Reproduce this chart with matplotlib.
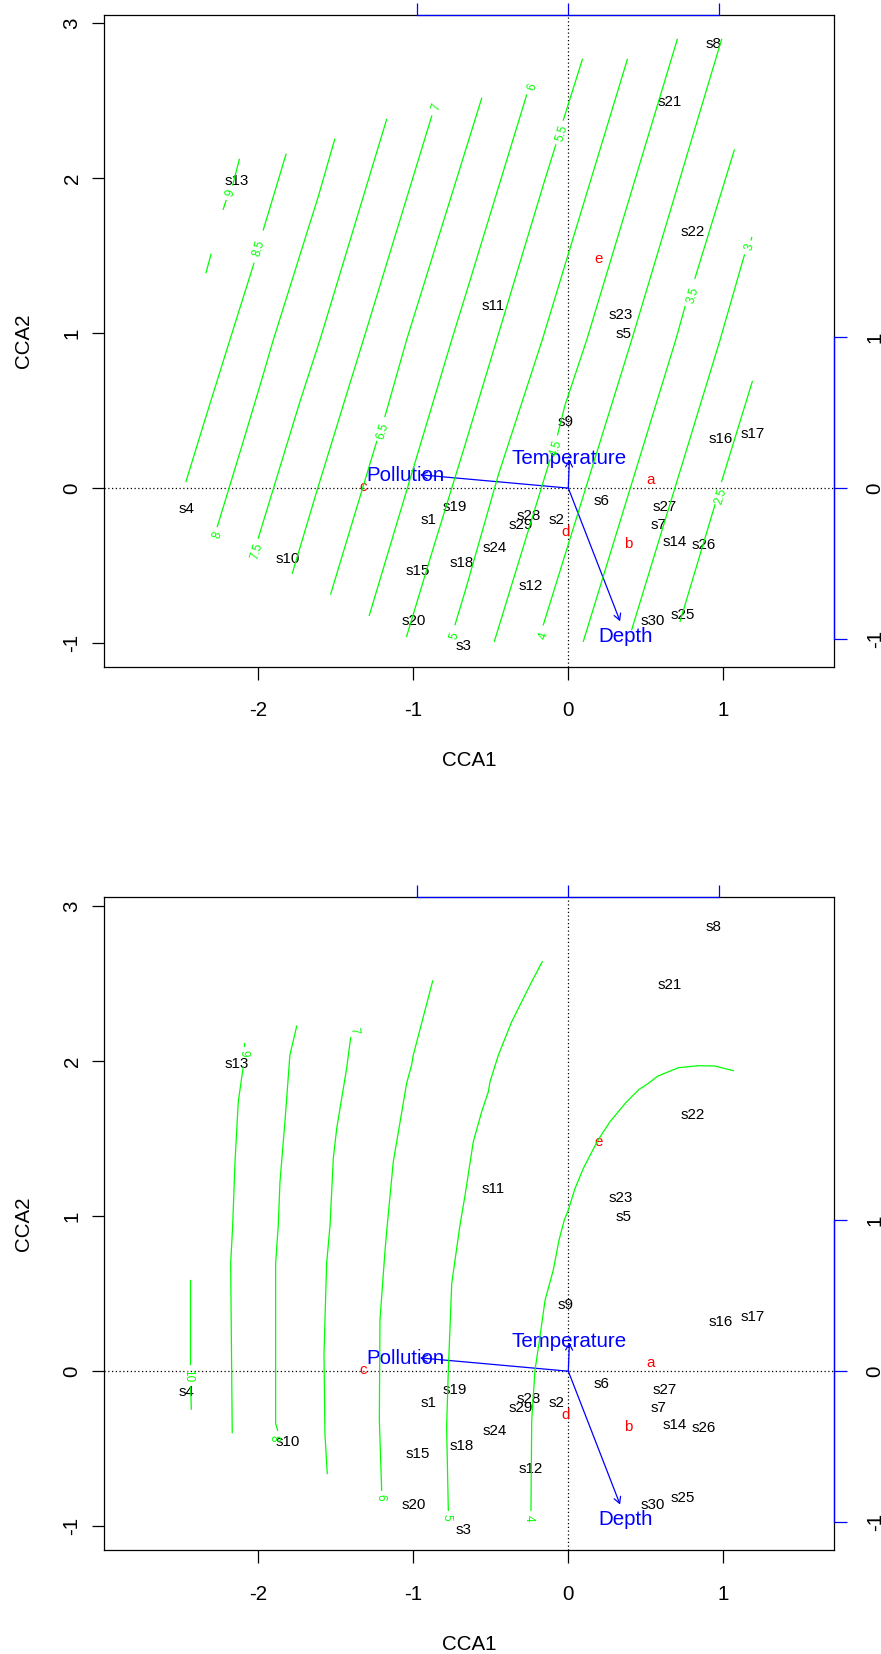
import matplotlib
matplotlib.use('Agg')
import matplotlib.pyplot as plt

plt.rcParams['font.family'] = ['Liberation Sans', 'DejaVu Sans']

# site scores on the first two constrained axes
site_names = ['s%d' % i for i in range(1, 31)]
site_x = [-0.903, -0.073, -0.676, -2.462, 0.357, 0.211, 0.583, 0.936, -0.015, -1.813,
          -0.484, -0.241, -2.140, 0.684, -0.974, 0.985, 1.187, -0.688, -0.731, -1.000,
          0.656, 0.805, 0.336, -0.477, 0.738, 0.873, 0.624, -0.254, -0.307, 0.542]
site_y = [-0.198, -0.196, -1.012, -0.123, 1.006, -0.071, -0.226, 2.877, 0.434, -0.445,
          1.183, -0.624, 1.993, -0.336, -0.523, 0.329, 0.361, -0.473, -0.114, -0.850,
          2.499, 1.660, 1.129, -0.379, -0.811, -0.359, -0.110, -0.172, -0.230, -0.850]

# species scores
species_names = ['a', 'b', 'c', 'd', 'e']
species_x = [0.529, 0.389, -1.322, -0.019, 0.192]
species_y = [0.064, -0.349, 0.015, -0.273, 1.488]

# environmental biplot arrows
env_names = ['Pollution', 'Temperature', 'Depth']
env_x = [-0.957, 0.007, 0.334]
env_y = [0.086, 0.185, -0.860]

# scale of the arrow axes (top and right)
arrow_mul = 0.975
arrow_ticks = [-1, 0, 1]

x_ticks = [-2, -1, 0, 1]
y_ticks = [-1, 0, 1, 2, 3]
x_lim = (-2.992, 1.712)
y_lim = (-1.153, 3.056)

# fitted surface, first model: contour pieces per level
top_levels = [9, 8.5, 8, 7.5, 7, 6.5, 6, 5.5, 5, 4.5, 4, 3.5, 3, 2.5]
top_paths = [
    [[(-2.122, 2.122), (-2.165, 1.957)], [(-2.208, 1.856), (-2.226, 1.800)],
     [(-2.305, 1.509), (-2.337, 1.391)]],
    [[(-1.821, 2.155), (-1.968, 1.666)],
     [(-2.028, 1.451), (-2.183, 0.957), (-2.344, 0.441), (-2.466, 0.043)]],
    [[(-1.507, 2.251), (-1.613, 1.882), (-1.903, 0.957), (-1.978, 0.699),
      (-2.097, 0.301), (-2.264, -0.248)]],
    [[(-1.172, 2.380), (-1.602, 0.957), (-1.731, 0.559), (-2.000, -0.323)]],
    [[(-0.881, 2.402), (-1.322, 0.957), (-1.405, 0.688), (-1.623, -0.022), (-1.780, -0.549)]],
    [[(-0.559, 2.516), (-1.043, 0.957), (-1.183, 0.462)],
     [(-1.236, 0.301), (-1.533, -0.684)]],
    [[(-0.269, 2.537), (-0.666, 1.236), (-0.752, 0.957), (-1.284, -0.822)]],
    [[(0.091, 2.768), (-0.032, 2.376)],
     [(-0.081, 2.215), (-0.155, 1.978), (-0.462, 0.957), (-0.666, 0.279),
      (-0.871, -0.387), (-1.043, -0.957)]],
    [[(0.381, 2.768), (-0.168, 0.957), (-0.451, 0.086), (-0.666, -0.667), (-0.731, -0.882)]],
    [[(0.703, 2.897), (0.119, 0.957), (-0.021, 0.537), (-0.069, 0.344)],
     [(-0.118, 0.183), (-0.477, -0.989)]],
    [[(0.989, 2.897), (0.409, 0.957), (-0.161, -0.882)]],
    [[(1.071, 2.183), (0.817, 1.355)],
     [(0.753, 1.172), (0.693, 0.957), (0.097, -0.989)]],
    [[(1.183, 1.617), (1.179, 1.602)],
     [(1.136, 1.505), (0.979, 0.957), (0.409, -0.914)]],
    [[(1.187, 0.688), (0.989, 0.043)],
     [(0.946, -0.108), (0.721, -0.860)]],
]
top_label_xy = [(-2.176, 1.903), (-1.993, 1.548), (-2.264, -0.301), (-2.011, -0.409),
                (-0.849, 2.458), (-1.198, 0.365), (-0.230, 2.587), (-0.043, 2.290),
                (-0.735, -0.957), (-0.081, 0.258), (-0.157, -0.957), (0.807, 1.247),
                (1.172, 1.555), (0.985, -0.054)]
top_label_rot = [73] * len(top_levels)

# fitted surface, second model
bottom_levels = [10, 9, 8, 7, 6, 5, 4]
bottom_paths = [
    [[(-2.441, 0.587), (-2.441, 0.045)], [(-2.436, -0.101), (-2.432, -0.245)]],
    [[(-2.093, 2.114), (-2.093, 2.097)],
     [(-2.097, 1.963), (-2.129, 1.738), (-2.150, 1.351), (-2.165, 0.942),
      (-2.178, 0.695), (-2.168, -0.396)]],
    [[(-1.752, 2.226), (-1.796, 2.039), (-1.828, 1.609), (-1.860, 1.221), (-1.871, 0.942),
      (-1.888, 0.695), (-1.888, -0.338), (-1.875, -0.381)]],
    [[(-1.404, 2.151), (-1.430, 1.953), (-1.494, 1.566), (-1.516, 1.372), (-1.537, 0.942),
      (-1.559, 0.695), (-1.576, 0.114), (-1.570, -0.402), (-1.555, -0.660)]],
    [[(-0.875, 2.516), (-1.000, 2.039), (-1.011, 1.974), (-1.043, 1.856), (-1.129, 1.351),
      (-1.168, 0.942), (-1.183, 0.770), (-1.215, 0.329), (-1.219, -0.316), (-1.204, -0.768)]],
    [[(-0.168, 2.641), (-0.236, 2.512), (-0.365, 2.254), (-0.451, 2.039), (-0.505, 1.867),
      (-0.516, 1.802), (-0.559, 1.673), (-0.613, 1.480), (-0.666, 1.135), (-0.699, 0.942),
      (-0.752, 0.566), (-0.774, 0.006), (-0.785, -0.359), (-0.774, -0.897)]],
    [[(1.065, 1.938), (0.946, 1.968), (0.839, 1.970), (0.710, 1.957), (0.577, 1.903),
      (0.516, 1.856), (0.456, 1.817), (0.372, 1.733), (0.269, 1.609), (0.189, 1.486),
      (0.097, 1.308), (0.043, 1.178), (0.000, 1.039), (-0.026, 0.974), (-0.060, 0.845),
      (-0.097, 0.652), (-0.150, 0.458), (-0.183, 0.221), (-0.215, 0.006), (-0.236, -0.316),
      (-0.241, -0.897)]],
]
bottom_label_xy = [(-2.456, -0.026), (-2.093, 2.049), (-1.903, -0.434), (-1.383, 2.194),
                   (-1.211, -0.815), (-0.789, -0.944), (-0.254, -0.946)]
bottom_label_rot = [-90, -90, -90, -80, -90, -90, -90]

BIG = 14.8
SMALL = 10.9
CONTOUR = 8.5
LW = 0.9


def ordiPanel( ax, levels, paths, label_xy, label_rot ):
    '''
    Draws one ordination diagram: sites, species, arrows,
    the blue arrow-scale axes and the surface contours.
    '''
    ax.set_xlim( x_lim )
    ax.set_ylim( y_lim )
    ax.set_xticks( x_ticks )
    ax.set_yticks( y_ticks )
    ax.set_xticklabels( [str(t) for t in x_ticks] )
    ax.set_yticklabels( [str(t) for t in y_ticks] )
    ax.tick_params( length = 9, width = LW, labelsize = BIG, direction = 'out' )
    ax.tick_params( axis = 'x', pad = 16.0 )
    ax.tick_params( axis = 'y', pad = 7.5, labelrotation = 90 )
    plt.setp( ax.get_yticklabels(), va = 'center' )
    for sp in ax.spines.values():
        sp.set_linewidth( LW )

    ax.set_xlabel( 'CCA1', fontsize = BIG )
    ax.xaxis.set_label_coords( 0.5, -0.1415 )
    ax.xaxis.label.set_va( 'center_baseline' )
    ax.set_ylabel( 'CCA2', fontsize = BIG )
    ax.yaxis.set_label_coords( -0.1137, 0.5 )
    ax.yaxis.label.set_va( 'center_baseline' )

    ax.axhline( 0, color = 'black', lw = LW, ls = (0, (1, 2)), zorder = 1 )
    ax.axvline( 0, color = 'black', lw = LW, ls = (0, (1, 2)), zorder = 1 )

    for name, x, y in zip( site_names, site_x, site_y ):
        ax.text( x, y, name, fontsize = SMALL, ha = 'center', va = 'center_baseline', zorder = 3 )
    for name, x, y in zip( species_names, species_x, species_y ):
        ax.text( x, y, name, fontsize = SMALL, color = 'red', ha = 'center',
                 va = 'center_baseline', zorder = 3 )
    for name, x, y in zip( env_names, env_x, env_y ):
        ax.annotate( '', xy = (x, y), xytext = (0, 0),
                     arrowprops = dict( arrowstyle = '->,head_length=0.45,head_width=0.25',
                                        color = 'blue', lw = LW, shrinkA = 0, shrinkB = 0 ),
                     zorder = 3 )
        ax.text( x * 1.1, y * 1.1, name, fontsize = BIG, color = 'blue', ha = 'center',
                 va = 'center_baseline', zorder = 3 )

    # arrow scale on top and right, only between the outer ticks
    top = ax.secondary_xaxis( 'top', functions = (lambda v: v / arrow_mul, lambda v: v * arrow_mul) )
    top.set_xticks( arrow_ticks )
    top.spines['top'].set_bounds( arrow_ticks[0], arrow_ticks[-1] )
    top.spines['top'].set_color( 'blue' )
    top.spines['top'].set_linewidth( LW )
    top.tick_params( length = 9, width = LW, color = 'blue', labeltop = False )
    top.set_zorder( 6 )

    right = ax.secondary_yaxis( 'right', functions = (lambda v: v / arrow_mul, lambda v: v * arrow_mul) )
    right.set_yticks( arrow_ticks )
    right.set_yticklabels( [str(t) for t in arrow_ticks] )
    right.spines['right'].set_bounds( arrow_ticks[0], arrow_ticks[-1] )
    right.spines['right'].set_color( 'blue' )
    right.spines['right'].set_linewidth( LW )
    right.tick_params( length = 9, width = LW, color = 'blue', labelsize = BIG,
                       pad = 14.0, labelrotation = 90 )
    plt.setp( right.get_yticklabels(), va = 'center' )
    right.set_zorder( 6 )

    # surface contours go on last
    for level, pieces, (lx, ly), rot in zip( levels, paths, label_xy, label_rot ):
        for piece in pieces:
            xs = [p[0] for p in piece]
            ys = [p[1] for p in piece]
            ax.plot( xs, ys, color = '#00ff00', lw = LW, zorder = 4 )
        ax.text( lx, ly, '%g' % level, fontsize = CONTOUR, color = '#00ff00', rotation = rot,
                 ha = 'center', va = 'center', rotation_mode = 'anchor', zorder = 4 )


if __name__ == "__main__":
    fig = plt.figure( figsize = (8.81, 16.54), dpi = 100 )
    ax1 = fig.add_axes( [0.11861, 0.59692, 0.82770, 0.39420] )
    ax2 = fig.add_axes( [0.11861, 0.06288, 0.82770, 0.39462] )
    ordiPanel( ax1, top_levels, top_paths, top_label_xy, top_label_rot )
    ordiPanel( ax2, bottom_levels, bottom_paths, bottom_label_xy, bottom_label_rot )
    fig.savefig( 'out.png', dpi = 100 )
